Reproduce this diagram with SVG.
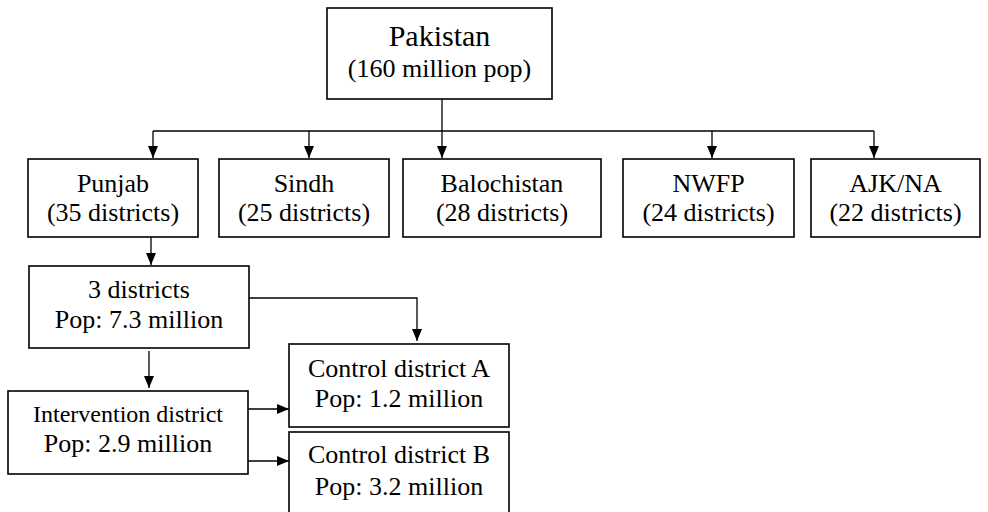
<svg xmlns="http://www.w3.org/2000/svg" width="988" height="512" viewBox="0 0 988 512">
<style>
.box{fill:#fff;stroke:#000;stroke-width:1.6}
text{font-family:"Liberation Serif","Times New Roman",serif;font-size:26px;fill:#000;text-anchor:middle}
.big{font-size:30px}
.sm{font-size:24px}
.ln{fill:none;stroke:#000;stroke-width:1.3}
</style>
<defs>
<marker id="ah" markerUnits="userSpaceOnUse" markerWidth="12" markerHeight="10" refX="12" refY="5" orient="auto">
<path d="M0,0 L12,5 L0,10 z" fill="#000"/>
</marker>
</defs>
<g id="connectors">
<path class="ln" d="M442,99 V131"/>
<path class="ln" d="M153,131 H874"/>
<path class="ln" d="M153,131 V158" marker-end="url(#ah)"/>
<path class="ln" d="M309,131 V158" marker-end="url(#ah)"/>
<path class="ln" d="M442,131 V158" marker-end="url(#ah)"/>
<path class="ln" d="M712,131 V158" marker-end="url(#ah)"/>
<path class="ln" d="M874,131 V158" marker-end="url(#ah)"/>
<path class="ln" d="M151,237 V265" marker-end="url(#ah)"/>
<path class="ln" d="M247,298 H417 V341" marker-end="url(#ah)"/>
<path class="ln" d="M149,351 V388" marker-end="url(#ah)"/>
<path class="ln" d="M247,409 H289" marker-end="url(#ah)"/>
<path class="ln" d="M247,461 H289" marker-end="url(#ah)"/>
</g>
<g id="pakistan">
<rect class="box" x="327" y="8" width="225" height="91"/>
<text class="big" x="439.5" y="46">Pakistan</text>
<text x="439.5" y="77">(160 million pop)</text>
</g>
<g id="punjab">
<rect class="box" x="28" y="159" width="170" height="78"/>
<text x="113" y="192">Punjab</text>
<text x="113" y="221">(35 districts)</text>
</g>
<g id="sindh">
<rect class="box" x="219" y="159" width="170" height="78"/>
<text x="304" y="192">Sindh</text>
<text x="304" y="221">(25 districts)</text>
</g>
<g id="balochistan">
<rect class="box" x="403" y="159" width="198" height="78"/>
<text x="502" y="192">Balochistan</text>
<text x="502" y="221">(28 districts)</text>
</g>
<g id="nwfp">
<rect class="box" x="623" y="159" width="171" height="78"/>
<text x="708.5" y="192">NWFP</text>
<text x="708.5" y="221">(24 districts)</text>
</g>
<g id="ajk">
<rect class="box" x="811" y="159" width="169" height="78"/>
<text x="895.5" y="192">AJK/NA</text>
<text x="895.5" y="221">(22 districts)</text>
</g>
<g id="three-districts">
<rect class="box" x="29" y="266" width="220" height="82"/>
<text x="139" y="298">3 districts</text>
<text x="139" y="328">Pop: 7.3 million</text>
</g>
<g id="intervention">
<rect class="box" x="8" y="391" width="240" height="83"/>
<text class="sm" x="128" y="422">Intervention district</text>
<text x="128" y="452">Pop: 2.9 million</text>
</g>
<g id="control-a">
<rect class="box" x="289" y="344" width="220" height="83"/>
<text x="399" y="377">Control district A</text>
<text x="399" y="407">Pop: 1.2 million</text>
</g>
<g id="control-b">
<rect class="box" x="289" y="432" width="220" height="90"/>
<text x="399" y="463">Control district B</text>
<text x="399" y="495">Pop: 3.2 million</text>
</g>
</svg>
